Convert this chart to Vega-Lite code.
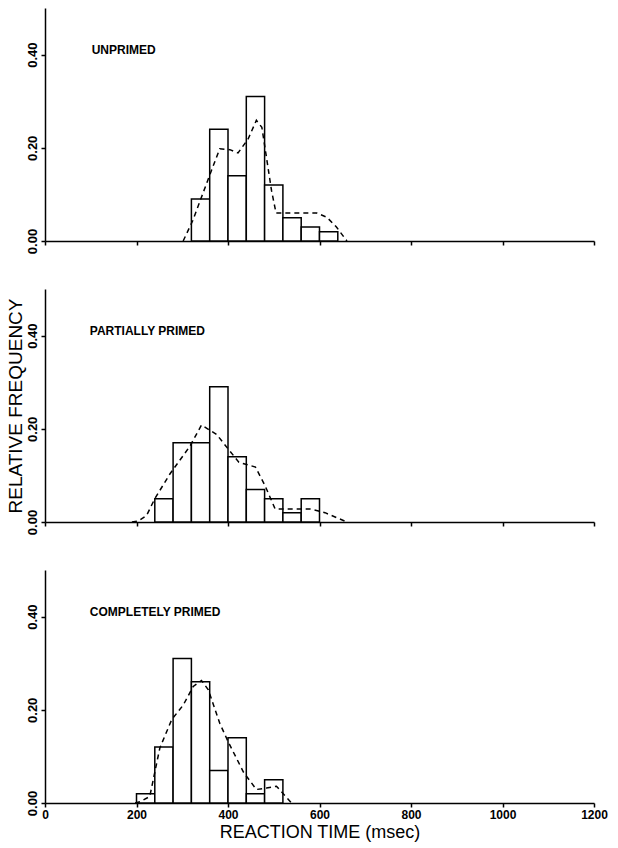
{
  "$schema": "https://vega.github.io/schema/vega-lite/v6.json",
  "padding": {"left": 6, "top": 8, "right": 5, "bottom": 2},
  "background": "white",
  "datasets": {
    "bars": [
      {"p": 1, "start": 320, "end": 360, "freq": 0.09},
      {"p": 1, "start": 360, "end": 400, "freq": 0.24},
      {"p": 1, "start": 400, "end": 440, "freq": 0.14},
      {"p": 1, "start": 440, "end": 480, "freq": 0.31},
      {"p": 1, "start": 480, "end": 520, "freq": 0.12},
      {"p": 1, "start": 520, "end": 560, "freq": 0.05},
      {"p": 1, "start": 560, "end": 600, "freq": 0.03},
      {"p": 1, "start": 600, "end": 640, "freq": 0.02},
      {"p": 2, "start": 240, "end": 280, "freq": 0.05},
      {"p": 2, "start": 280, "end": 320, "freq": 0.17},
      {"p": 2, "start": 320, "end": 360, "freq": 0.17},
      {"p": 2, "start": 360, "end": 400, "freq": 0.29},
      {"p": 2, "start": 400, "end": 440, "freq": 0.14},
      {"p": 2, "start": 440, "end": 480, "freq": 0.07},
      {"p": 2, "start": 480, "end": 520, "freq": 0.05},
      {"p": 2, "start": 520, "end": 560, "freq": 0.02},
      {"p": 2, "start": 560, "end": 600, "freq": 0.05},
      {"p": 3, "start": 200, "end": 240, "freq": 0.02},
      {"p": 3, "start": 240, "end": 280, "freq": 0.12},
      {"p": 3, "start": 280, "end": 320, "freq": 0.31},
      {"p": 3, "start": 320, "end": 360, "freq": 0.26},
      {"p": 3, "start": 360, "end": 400, "freq": 0.07},
      {"p": 3, "start": 400, "end": 440, "freq": 0.14},
      {"p": 3, "start": 440, "end": 480, "freq": 0.02},
      {"p": 3, "start": 480, "end": 520, "freq": 0.05}
    ],
    "curve": [
      {"p": 1, "t": 302, "f": 0.0},
      {"p": 1, "t": 323, "f": 0.044},
      {"p": 1, "t": 361, "f": 0.144},
      {"p": 1, "t": 382, "f": 0.198},
      {"p": 1, "t": 404, "f": 0.196},
      {"p": 1, "t": 422, "f": 0.189},
      {"p": 1, "t": 444, "f": 0.219},
      {"p": 1, "t": 462, "f": 0.259},
      {"p": 1, "t": 474, "f": 0.244},
      {"p": 1, "t": 484, "f": 0.18},
      {"p": 1, "t": 495, "f": 0.109},
      {"p": 1, "t": 505, "f": 0.06},
      {"p": 1, "t": 550, "f": 0.06},
      {"p": 1, "t": 594, "f": 0.06},
      {"p": 1, "t": 616, "f": 0.051},
      {"p": 1, "t": 637, "f": 0.03},
      {"p": 1, "t": 660, "f": 0.0},
      {"p": 2, "t": 190, "f": 0.0},
      {"p": 2, "t": 204, "f": 0.002},
      {"p": 2, "t": 222, "f": 0.014},
      {"p": 2, "t": 240, "f": 0.05},
      {"p": 2, "t": 273, "f": 0.103},
      {"p": 2, "t": 317, "f": 0.163},
      {"p": 2, "t": 342, "f": 0.208},
      {"p": 2, "t": 375, "f": 0.188},
      {"p": 2, "t": 401, "f": 0.156},
      {"p": 2, "t": 424, "f": 0.128},
      {"p": 2, "t": 460, "f": 0.118},
      {"p": 2, "t": 481, "f": 0.078},
      {"p": 2, "t": 503, "f": 0.028},
      {"p": 2, "t": 543, "f": 0.028},
      {"p": 2, "t": 579, "f": 0.028},
      {"p": 2, "t": 612, "f": 0.02},
      {"p": 2, "t": 660, "f": 0.0},
      {"p": 3, "t": 197, "f": 0.0},
      {"p": 3, "t": 208, "f": 0.003},
      {"p": 3, "t": 229, "f": 0.014},
      {"p": 3, "t": 251, "f": 0.118},
      {"p": 3, "t": 277, "f": 0.179},
      {"p": 3, "t": 302, "f": 0.21},
      {"p": 3, "t": 324, "f": 0.25},
      {"p": 3, "t": 342, "f": 0.263},
      {"p": 3, "t": 357, "f": 0.243},
      {"p": 3, "t": 382, "f": 0.171},
      {"p": 3, "t": 401, "f": 0.13},
      {"p": 3, "t": 434, "f": 0.066},
      {"p": 3, "t": 462, "f": 0.029},
      {"p": 3, "t": 484, "f": 0.032},
      {"p": 3, "t": 506, "f": 0.036},
      {"p": 3, "t": 539, "f": 0.0}
    ],
    "labels": [
      {"p": 1, "x": 102, "y": 0.41, "label": "UNPRIMED"},
      {"p": 2, "x": 98, "y": 0.41, "label": "PARTIALLY PRIMED"},
      {"p": 3, "x": 98, "y": 0.41, "label": "COMPLETELY PRIMED"}
    ]
  },
  "spacing": 48,
  "bounds": "flush",
  "vconcat": [
    {
      "width": 549, "height": 233,
      "layer": [
        {"data": {"name": "bars"}, "transform": [{"filter": "datum.p == 1"}],
         "mark": {"type": "rect", "fill": "white", "stroke": "black", "strokeWidth": 1.5},
         "encoding": {
           "x": {"field": "start", "type": "quantitative", "scale": {"domain": [0, 1200], "nice": false},
                 "axis": {"values": [0, 200, 400, 600, 800, 1000, 1200], "labels": false, "title": null}},
           "x2": {"field": "end"},
           "y": {"field": "freq", "type": "quantitative", "scale": {"domain": [0, 0.5], "nice": false},
                 "axis": {"values": [0, 0.2, 0.4], "format": ".2f", "title": null}},
           "y2": {"datum": 0}
         }},
        {"data": {"name": "curve"}, "transform": [{"filter": "datum.p == 1"}],
         "mark": {"type": "line", "color": "black", "strokeDash": [5, 4], "strokeWidth": 1.5},
         "encoding": {"x": {"field": "t", "type": "quantitative"}, "y": {"field": "f", "type": "quantitative"}}},
        {"data": {"name": "labels"}, "transform": [{"filter": "datum.p == 1"}],
         "mark": {"type": "text", "align": "left", "baseline": "middle", "fontSize": 12, "fontWeight": "bold", "color": "black"},
         "encoding": {"x": {"field": "x", "type": "quantitative"}, "y": {"field": "y", "type": "quantitative"}, "text": {"field": "label"}}}
      ]
    },
    {
      "width": 549, "height": 233,
      "layer": [
        {"data": {"name": "bars"}, "transform": [{"filter": "datum.p == 2"}],
         "mark": {"type": "rect", "fill": "white", "stroke": "black", "strokeWidth": 1.5},
         "encoding": {
           "x": {"field": "start", "type": "quantitative", "scale": {"domain": [0, 1200], "nice": false},
                 "axis": {"values": [0, 200, 400, 600, 800, 1000, 1200], "labels": false, "title": null}},
           "x2": {"field": "end"},
           "y": {"field": "freq", "type": "quantitative", "scale": {"domain": [0, 0.5], "nice": false},
                 "axis": {"values": [0, 0.2, 0.4], "format": ".2f", "title": "RELATIVE FREQUENCY"}},
           "y2": {"datum": 0}
         }},
        {"data": {"name": "curve"}, "transform": [{"filter": "datum.p == 2"}],
         "mark": {"type": "line", "color": "black", "strokeDash": [5, 4], "strokeWidth": 1.5},
         "encoding": {"x": {"field": "t", "type": "quantitative"}, "y": {"field": "f", "type": "quantitative"}}},
        {"data": {"name": "labels"}, "transform": [{"filter": "datum.p == 2"}],
         "mark": {"type": "text", "align": "left", "baseline": "middle", "fontSize": 12, "fontWeight": "bold", "color": "black"},
         "encoding": {"x": {"field": "x", "type": "quantitative"}, "y": {"field": "y", "type": "quantitative"}, "text": {"field": "label"}}}
      ]
    },
    {
      "width": 549, "height": 233,
      "layer": [
        {"data": {"name": "bars"}, "transform": [{"filter": "datum.p == 3"}],
         "mark": {"type": "rect", "fill": "white", "stroke": "black", "strokeWidth": 1.5},
         "encoding": {
           "x": {"field": "start", "type": "quantitative", "scale": {"domain": [0, 1200], "nice": false},
                 "axis": {"values": [0, 200, 400, 600, 800, 1000, 1200], "format": "d", "title": "REACTION TIME (msec)", "labelFontSize": 12, "labelPadding": 2, "titlePadding": 3, "titleFontSize": 18}},
           "x2": {"field": "end"},
           "y": {"field": "freq", "type": "quantitative", "scale": {"domain": [0, 0.5], "nice": false},
                 "axis": {"values": [0, 0.2, 0.4], "format": ".2f", "title": null}},
           "y2": {"datum": 0}
         }},
        {"data": {"name": "curve"}, "transform": [{"filter": "datum.p == 3"}],
         "mark": {"type": "line", "color": "black", "strokeDash": [5, 4], "strokeWidth": 1.5},
         "encoding": {"x": {"field": "t", "type": "quantitative"}, "y": {"field": "f", "type": "quantitative"}}},
        {"data": {"name": "labels"}, "transform": [{"filter": "datum.p == 3"}],
         "mark": {"type": "text", "align": "left", "baseline": "middle", "fontSize": 12, "fontWeight": "bold", "color": "black"},
         "encoding": {"x": {"field": "x", "type": "quantitative"}, "y": {"field": "y", "type": "quantitative"}, "text": {"field": "label"}}}
      ]
    }
  ],
  "config": {
    "font": "Liberation Sans",
    "view": {"stroke": null},
    "axis": {
      "grid": false,
      "domainColor": "black", "domainWidth": 1.5,
      "tickColor": "black", "tickWidth": 1.5, "tickSize": 4,
      "labelColor": "black", "labelFont": "Liberation Sans", "labelFontWeight": "bold", "labelFontSize": 13,
      "labelFlush": false,
      "titleColor": "black", "titleFont": "Liberation Sans", "titleFontWeight": "normal", "titleFontSize": 19
    },
    "axisX": {"labelPadding": 3, "titlePadding": 0},
    "axisY": {"labelAngle": -90, "labelAlign": "center", "labelBaseline": "bottom", "labelPadding": 2, "titlePadding": 1}
  }
}
